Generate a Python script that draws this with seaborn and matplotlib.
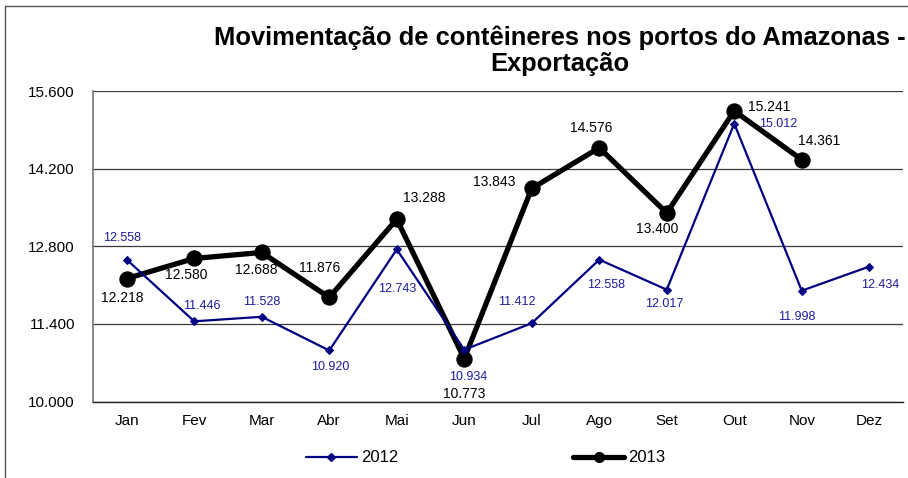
import matplotlib
matplotlib.use("Agg")
import matplotlib.pyplot as plt
from matplotlib.ticker import FuncFormatter, FixedLocator
from matplotlib.lines import Line2D
import seaborn as sns
import pandas as pd

months = ["Jan", "Fev", "Mar", "Abr", "Mai", "Jun", "Jul", "Ago", "Set", "Out", "Nov", "Dez"]
v2012 = [12558, 11446, 11528, 10920, 12743, 10934, 11412, 12558, 12017, 15012, 11998, 12434]
v2013 = [12218, 12580, 12688, 11876, 13288, 10773, 13843, 14576, 13400, 15241, 14361]
yticks = [10000, 11400, 12800, 14200, 15600]
title = "Movimentação de contêineres nos portos do Amazonas -\nExportação"

# label offsets (pixels), styling only
off2012 = [(-5, 22), (8, 15), (0, 15), (1, -17), (0, -40), (4, -27), (-15, 21),
           (7, -25), (-2, -14), (44, 0), (-5, -26), (11, -18)]
off2013 = [(-4, -19), (-8, -17), (-6, -18), (-10, 29), (27, 21), (0, -35),
           (-38, 6), (-8, 20), (-10, -16), (35, 4), (17, 19)]

sns.set_style("white")
plt.rcParams["font.family"] = ["Liberation Sans", "DejaVu Sans"]
plt.rcParams["text.color"] = "black"
plt.rcParams["xtick.color"] = "black"
plt.rcParams["ytick.color"] = "black"
plt.rcParams["axes.labelcolor"] = "black"

fmt = lambda v: f"{v:,.0f}".replace(",", ".")

df12 = pd.DataFrame({"pos": range(len(v2012)), "val": v2012})
df13 = pd.DataFrame({"pos": range(len(v2013)), "val": v2013})

fig = plt.figure(figsize=(9.08, 4.78), dpi=100)
ax = fig.add_axes([93 / 908, 1 - 401.5 / 478, (903 - 93) / 908, (401.5 - 91) / 478])

navy = "#000080"
lblue = "#1c1c9e"

sns.lineplot(data=df13, x="pos", y="val", ax=ax, color="black", linewidth=3.8,
             marker="o", markersize=11, markeredgecolor="black", zorder=3)
sns.lineplot(data=df12, x="pos", y="val", ax=ax, color=navy, linewidth=1.6,
             marker="D", markersize=4.5, markeredgecolor=navy, zorder=4)

for i, v in enumerate(v2012):
    ax.annotate(fmt(v), (i, v), xytext=off2012[i], textcoords="offset pixels",
                ha="center", va="center", fontsize=9, color=lblue, zorder=5)
for i, v in enumerate(v2013):
    ax.annotate(fmt(v), (i, v), xytext=off2013[i], textcoords="offset pixels",
                ha="center", va="center", fontsize=10, color="black", zorder=5)

ax.set_xlim(-0.5, 11.5)
ax.set_ylim(10000, 15600)
ax.set_yticks(yticks)
ax.yaxis.set_major_formatter(FuncFormatter(lambda v, p: fmt(v)))
ax.set_xticks(range(12))
ax.set_xticklabels(months)
ax.xaxis.set_minor_locator(FixedLocator([i - 0.5 for i in range(13)]))
ax.tick_params(axis="x", which="major", length=0, pad=9, labelsize=11, labelcolor="black")
ax.tick_params(axis="x", which="minor", length=4, width=1, color="#222222", direction="out")
ax.tick_params(axis="y", length=5, width=1, color="#555555", direction="out", pad=8,
               labelsize=11, labelcolor="black")
ax.set_xlabel("")
ax.set_ylabel("")
ax.grid(axis="y", color="#3a3a3a", linewidth=0.9)
ax.set_axisbelow(True)
for s in ["top", "right"]:
    ax.spines[s].set_visible(False)
ax.spines["left"].set_color("#777777")
ax.spines["left"].set_linewidth(1.2)
ax.spines["bottom"].set_color("#222222")
ax.spines["bottom"].set_linewidth(1.0)

fig.text(560 / 908, 1 - 51 / 478, title, ha="center", va="center", color="black",
         fontsize=18.4, fontweight="bold", linespacing=1.1)

h12 = Line2D([], [], color=navy, linewidth=1.6, marker="D", markersize=4.5)
h13 = Line2D([], [], color="black", linewidth=3.8, marker="o", markersize=7)
fig.legend([h12, h13], ["2012", "2013"], loc="center", ncol=2,
           bbox_to_anchor=(485.5 / 908, 1 - 458 / 478), frameon=False,
           fontsize=12, handlelength=3.06, handletextpad=0.24, columnspacing=10.5)

# outer chart border (partially cropped in the reference)
fig.add_artist(Line2D([5 / 908, 5 / 908], [0, 1 - 6 / 478], color="#555555", linewidth=1.0))
fig.add_artist(Line2D([5 / 908, 1], [1 - 6 / 478, 1 - 6 / 478], color="#555555", linewidth=1.0))

fig.savefig("out.png", dpi=100)
